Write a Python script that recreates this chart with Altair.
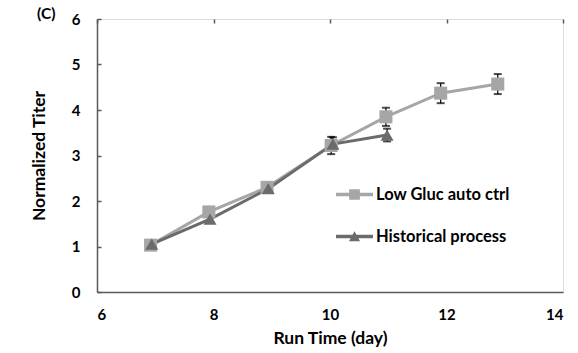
import altair as alt
import pandas as pd

# ---- data ----
series_names = ["Low Gluc auto ctrl", "Historical process"]

days_low = [6.92, 7.92, 8.92, 10.02, 10.96, 11.90, 12.88]
titer_low = [1.03, 1.76, 2.30, 3.22, 3.85, 4.37, 4.57]
err_low = [0.0, 0.0, 0.0, 0.19, 0.20, 0.22, 0.22]

days_hist = [6.94, 7.94, 8.94, 10.05, 10.98]
titer_hist = [1.05, 1.60, 2.27, 3.25, 3.45]
err_hist = [0.0, 0.0, 0.0, 0.15, 0.14]

x_ticks = [6, 8, 10, 12, 14]
y_ticks = [0, 1, 2, 3, 4, 5, 6]

colors = ["#a6a6a6", "#6b6b6b"]
FONT = "Lato"

rows = []
for d, t, e in zip(days_low, titer_low, err_low):
    rows.append({"series": series_names[0], "day": d, "titer": t, "err": e, "lo": t - e, "hi": t + e, "order": 0})
for d, t, e in zip(days_hist, titer_hist, err_hist):
    rows.append({"series": series_names[1], "day": d, "titer": t, "err": e, "lo": t - e, "hi": t + e, "order": 1})
df = pd.DataFrame(rows)

x_enc = alt.X(
    "day:Q",
    scale=alt.Scale(domain=[6, 14], nice=False, zero=False),
    axis=alt.Axis(
        values=x_ticks, format="d", title="Run Time (day)", ticks=False, tickSize=0,
        labelPadding=15, titlePadding=7, grid=True, gridDash=[4, 2000],
        gridColor="#595959", gridWidth=1.5, gridOpacity=1,
        domainColor="#595959", domainWidth=1.5,
        labelFont=FONT, labelFontSize=15, labelFontWeight="bold", labelColor="black",
        titleFont=FONT, titleFontSize=17.5, titleFontWeight="bold", titleColor="black",
    ),
)
y_enc = alt.Y(
    "titer:Q",
    scale=alt.Scale(domain=[0, 6], nice=False),
    axis=alt.Axis(
        values=y_ticks, format="d", title="Normalized Titer", ticks=False, tickSize=0,
        labelPadding=17, titlePadding=23, grid=True, gridDash=[4, 2000],
        gridColor="#595959", gridWidth=1.5, gridOpacity=1,
        domainColor="#595959", domainWidth=1.5,
        labelFont=FONT, labelFontSize=15, labelFontWeight="bold", labelColor="black",
        titleFont=FONT, titleFontSize=17.5, titleFontWeight="bold", titleColor="black",
    ),
)

color_scale = alt.Scale(domain=series_names, range=colors)

lines = alt.Chart(df).mark_line(strokeWidth=3).encode(
    x=x_enc, y=y_enc,
    color=alt.Color("series:N", scale=color_scale, legend=None),
    detail="series:N",
)

err_base = alt.Chart(df).transform_filter("datum.err > 0")
err_rule = err_base.mark_rule(color="black", strokeWidth=1.2).encode(
    x="day:Q", y="lo:Q", y2="hi:Q",
)
err_cap_lo = err_base.mark_tick(color="black", thickness=2, size=8, orient="horizontal").encode(
    x="day:Q", y="lo:Q",
)
err_cap_hi = err_base.mark_tick(color="black", thickness=2, size=8, orient="horizontal").encode(
    x="day:Q", y="hi:Q",
)

points = alt.Chart(df).mark_point(filled=True, opacity=1, size=170).encode(
    x="day:Q", y="titer:Q",
    color=alt.Color("series:N", scale=color_scale, legend=None),
    shape=alt.Shape("series:N", scale=alt.Scale(domain=series_names, range=["square", "triangle-up"]), legend=None),
    order="order:Q",
)

line_sq = "M-1,-0.09H1V0.09H-1Z M-0.29,-0.29H0.29V0.29H-0.29Z"
line_tri = "M-1,-0.09H1V0.09H-1Z M-0.3,0.26L0,-0.28L0.3,0.26Z"

legend_props = dict(
    title=None, orient="none", legendX=239, legendY=157, padding=0,
    symbolSize=1369, rowPadding=15, labelOffset=3,
    labelFont=FONT, labelFontSize=16.5, labelFontWeight="bold", labelColor="black",
    symbolStrokeWidth=0,
)

legend_layer = alt.Chart(df).transform_filter("false").mark_point(filled=True, opacity=1).encode(
    x="day:Q", y="titer:Q",
    color=alt.Color("series:N", scale=alt.Scale(domain=series_names, range=colors),
                    legend=alt.Legend(**legend_props)),
    shape=alt.Shape("series:N", scale=alt.Scale(domain=series_names, range=[line_sq, line_tri]),
                    legend=alt.Legend(**legend_props)),
)

chart = alt.layer(lines, err_rule, err_cap_lo, err_cap_hi, points, legend_layer).resolve_scale(
    color="independent", shape="independent"
).properties(
    width=466, height=273,
    autosize=alt.AutoSizeParams(type="none"),
    padding={"left": 97, "top": 19, "right": 15, "bottom": 61},
    title=alt.TitleParams(
        "(C)", anchor="start", frame="group", orient="top", offset=0,
        baseline="middle", dx=-60, dy=17, fontSize=15.5, fontWeight="bold",
        font=FONT, color="black",
    ),
).configure_view(stroke=None).configure(background="white")

chart.save("out.html", embed_options={"renderer": "svg", "actions": False})
